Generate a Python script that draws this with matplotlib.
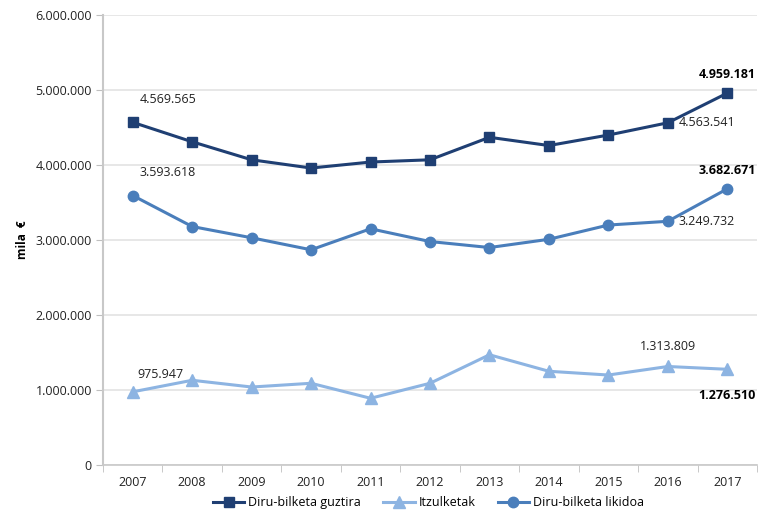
import matplotlib.pyplot as plt
from matplotlib.ticker import FuncFormatter

years = ['2007', '2008', '2009', '2010', '2011', '2012', '2013', '2014', '2015', '2016', '2017']
guztira = [4569565, 4310000, 4070000, 3960000, 4040000, 4070000, 4370000, 4260000, 4400000, 4563541, 4959181]
itzulketak = [975947, 1130000, 1040000, 1090000, 890000, 1090000, 1470000, 1250000, 1200000, 1313809, 1276510]
likidoa = [3593618, 3180000, 3030000, 2870000, 3150000, 2980000, 2900000, 3010000, 3200000, 3249732, 3682671]
series_names = ['Diru-bilketa guztira', 'Itzulketak', 'Diru-bilketa likidoa']


def fmt(v, pos=None):
    return f"{int(v):,}".replace(',', '.')


plt.rcParams['font.family'] = ['Open Sans', 'DejaVu Sans']
fig = plt.figure(figsize=(7.72, 5.30), dpi=100)
ax = fig.add_axes([0.1334, 0.1226, 0.8472, 0.849])

x = range(len(years))
ax.plot(x, guztira, color='#1F3F73', marker='s', markersize=7.5, lw=2.2, label=series_names[0], zorder=3)
ax.plot(x, itzulketak, color='#8DB4E2', marker='^', markersize=8.5, lw=2.2, label=series_names[1], zorder=3)
ax.plot(x, likidoa, color='#4A7EBB', marker='o', markersize=7.5, lw=2.2, label=series_names[2], zorder=3)

ax.set_xlim(-0.5, len(years) - 0.5)
ax.set_ylim(0, 6000000)
ax.set_yticks(range(0, 6000001, 1000000))
ax.yaxis.set_major_formatter(FuncFormatter(fmt))
ax.set_xticks(list(x))
ax.set_xticklabels(years)
ax.set_xticks([i + 0.5 for i in range(-1, len(years))], minor=True)
ax.tick_params(axis='x', which='major', length=0, pad=8, labelsize=9, colors='#222222')
ax.tick_params(axis='x', which='minor', length=5, color='#BFBFBF')
ax.tick_params(axis='y', length=5, color='#BFBFBF', labelsize=9, colors='#222222', pad=3)
ax.grid(axis='y', color='#E3E3E3', lw=1.2)
ax.set_axisbelow(True)
for s in ['top', 'right']:
    ax.spines[s].set_visible(False)
ax.spines['left'].set_color('#C8C8C8')
ax.spines['bottom'].set_color('#C8C8C8')
ax.spines['left'].set_linewidth(1.5)
ax.spines['bottom'].set_linewidth(1.2)
ax.set_ylabel('mila  €', fontsize=8.5, fontweight='bold')
ax.yaxis.set_label_coords(-0.113, 0.5)

# etykiety wartosci
ax.annotate(fmt(guztira[0]), (0, guztira[0]), xytext=(5, 14), textcoords='offset points', fontsize=9, color='#222222')
ax.annotate(fmt(likidoa[0]), (0, likidoa[0]), xytext=(5, 14), textcoords='offset points', fontsize=9, color='#222222')
ax.annotate(fmt(itzulketak[0]), (0, itzulketak[0]), xytext=(3, 10), textcoords='offset points', fontsize=9, color='#222222')
ax.annotate(fmt(guztira[9]), (9, guztira[9]), xytext=(8, 0), textcoords='offset points', fontsize=9, color='#222222', va='center')
ax.annotate(fmt(likidoa[9]), (9, likidoa[9]), xytext=(8, 0), textcoords='offset points', fontsize=9, color='#222222', va='center')
ax.annotate(fmt(itzulketak[9]), (9, itzulketak[9]), xytext=(0, 12), textcoords='offset points', fontsize=9, color='#222222', ha='center')
ax.annotate(fmt(guztira[10]), (10, guztira[10]), xytext=(0, 11), textcoords='offset points', fontsize=9, fontweight='bold', ha='center')
ax.annotate(fmt(likidoa[10]), (10, likidoa[10]), xytext=(0, 11), textcoords='offset points', fontsize=9, fontweight='bold', ha='center')
ax.annotate(fmt(itzulketak[10]), (10, itzulketak[10]), xytext=(0, -14), textcoords='offset points', fontsize=9, fontweight='bold', ha='center', va='top')

fig.legend(loc='center', bbox_to_anchor=(0.555, 0.052), ncol=3, frameon=False, fontsize=9,
           handlelength=2.5, columnspacing=1.8, handletextpad=0.3)

fig.savefig('out.png', dpi=100)
